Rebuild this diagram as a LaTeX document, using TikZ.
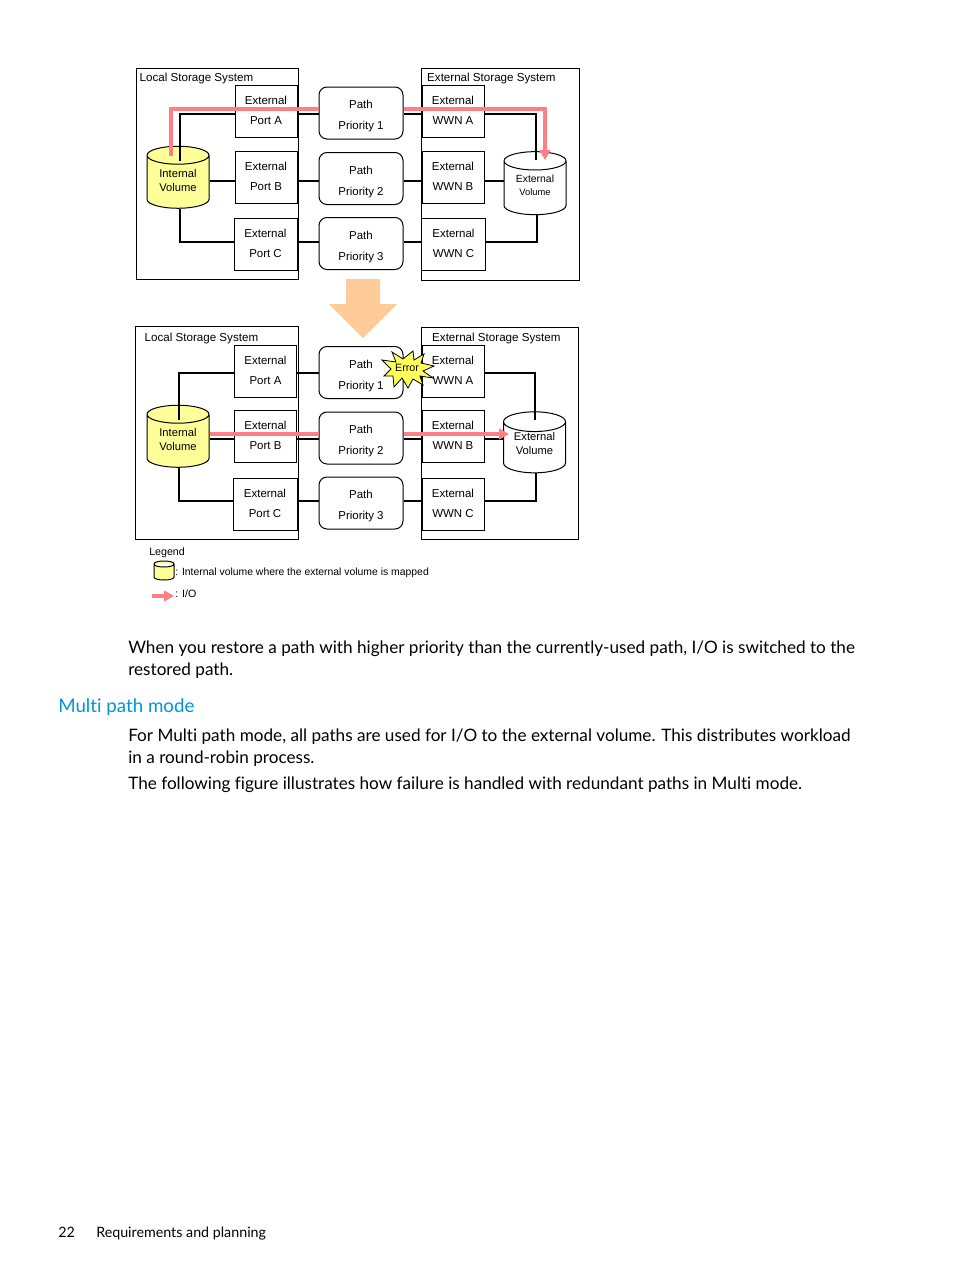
\documentclass[tikz,border=0pt]{standalone}
\usepackage{fontspec}
\setmainfont[Ligatures=CommonOff]{Lato}
\newfontfamily\figfont{Liberation Sans}
\usetikzlibrary{arrows.meta,shapes.geometric}
\definecolor{iopink}{HTML}{FF7F86}
\definecolor{volyel}{HTML}{FFFF99}
\definecolor{peach}{HTML}{FFCC99}
\definecolor{hplink}{HTML}{0096D6}
\tikzset{
  x=.75pt,y=-.75pt,
  vtx/.style={execute at end node={\rule[-#1]{0pt}{0pt}}},
  lb/.style={font=\figfont\fontsize{8.6}{15}\selectfont,align=center},
  tb/.style={font=\figfont\fontsize{8.7}{11}\selectfont,anchor=west},
  sysb/.style={rectangle,draw=black,line width=.75pt,anchor=north west,inner sep=0pt},
  prt/.style={lb,rectangle,draw=black,fill=white,line width=.75pt,minimum width=46.5pt,minimum height=39pt,inner sep=0pt,vtx=1.5pt},
  pth/.style={lb,font=\figfont\fontsize{8.6}{15.75}\selectfont,rectangle,rounded corners=6pt,draw=black,fill=white,line width=.75pt,minimum width=63pt,minimum height=39pt,inner sep=0pt,execute at begin node={\rule{0pt}{27pt}}},
  vol/.style={cylinder,shape border rotate=90,aspect=.48,draw=black,line width=.75pt,inner sep=0pt,minimum width=46.5pt,minimum height=46.5pt,align=center,font=\figfont\fontsize{8.4}{10.5}\selectfont},
  ivol/.style={vol,cylinder uses custom fill,cylinder body fill=volyel,cylinder end fill=volyel,vtx=1.7pt},
  evol/.style={vol,fill=white,vtx=4.7pt},
  lnk/.style={draw=black,line width=1.5pt},
  io/.style={draw=iopink,line width=3pt},
  ioa/.style={io,-{Triangle[length=7.5pt,width=8pt]}},
  body/.style={font=\fontsize{12.86}{16.5}\selectfont,anchor=base west,inner sep=0pt},
}
\begin{document}
\begin{tikzpicture}
\useasboundingbox (0,0) rectangle (954,1271);
% upper panel
\node[sysb,minimum width=121.5pt,minimum height=158.5pt] (ls1) at (136,67.5) {};
\node[sysb,minimum width=118.5pt,minimum height=159.5pt] (es1) at (421,67.5) {};
\node[tb] (lst1) at (135,78) {Local Storage System};
\node[tb] (est1) at (422.5,78) {External Storage System};
\node[ivol] (iv1) at (178,182) {Internal\\Volume};
\node[evol,minimum height=47.25pt,font=\figfont\fontsize{7.8}{9.75}\selectfont] (ev1) at (535,188) {External\\{\fontsize{7}{9.75}\selectfont Volume}};
\coordinate (ia1) at (180,161); \coordinate (ib1) at (171,156);
\coordinate (ea1) at (536,160); \coordinate (eb1) at (545,160); \coordinate (ec1) at (537,215);
\coordinate (la1) at (0,114); \coordinate (lb1) at (0,181); \coordinate (lc1) at (0,242); \coordinate (lp1) at (0,109);
\node[prt] (pa1) at (266,111) {External\\Port A};
\node[prt] (pb1) at (266,177) {External\\Port B};
\node[prt,minimum width=47.25pt] (pc1) at (265.5,244.5) {External\\Port C};
\node[pth] (pp1) at (361,113) {Path\\Priority 1};
\node[pth] (pp2) at (361,178.5) {Path\\Priority 2};
\node[pth] (pp3) at (361,243.5) {Path\\Priority 3};
\node[prt] (wa1) at (453,111) {External\\WWN A};
\node[prt] (wb1) at (453,177) {External\\WWN B};
\node[prt,minimum width=48pt] (wc1) at (453.5,244.5) {External\\WWN C};
\draw[lnk] (ia1) |- (pa1.west |- la1);
\draw[lnk] (iv1.east |- lb1) -- (pb1.west |- lb1);
\draw[lnk] (iv1.south -| ia1) |- (pc1.west |- lc1);
\draw[lnk] (pa1.east |- la1) -- (pp1.west |- la1) (pp1.east |- la1) -- (wa1.west |- la1);
\draw[lnk] (pb1.east |- lb1) -- (pp2.west |- lb1) (pp2.east |- lb1) -- (wb1.west |- lb1);
\draw[lnk] (pc1.east |- lc1) -- (pp3.west |- lc1) (pp3.east |- lc1) -- (wc1.west |- lc1);
\draw[lnk] (wa1.east |- la1) -| (ea1);
\draw[lnk] (wb1.east |- lb1) -- (ev1.west |- lb1);
\draw[lnk] (wc1.east |- lc1) -| (ec1);
\draw[io] (ib1) |- (pp1.west |- lp1);
\draw[ioa] (pp1.east |- lp1) -| (eb1);
% transition arrow
\fill[peach] (346,279) -- (380,279) -- (380,304) -- (397,304) -- (363,338) -- (329,304) -- (346,304) -- cycle;
% lower panel
\node[sysb,minimum width=121.9pt,minimum height=159.75pt] (ls2) at (135,325.5) {};
\node[sysb,minimum width=117.75pt,minimum height=159pt] (es2) at (421,326.5) {};
\node[tb] (lst2) at (140,338) {Local Storage System};
\node[tb] (est2) at (427.5,338) {External Storage System};
\node[ivol] (iv2) at (178,441) {Internal\\Volume};
\node[evol,vtx=6.2pt,minimum height=45.75pt] (ev2) at (534.5,447.5) {External\\Volume};
\coordinate (ia2) at (179,420); \coordinate (ea2) at (535,420); \coordinate (ec2) at (536,473);
\coordinate (la2) at (0,373); \coordinate (lb2) at (0,439); \coordinate (lc2) at (0,501); \coordinate (lp2) at (0,434);
\coordinate (eb2) at (509,434);
\node[prt] (pa2) at (265.5,371) {External\\Port A};
\node[prt] (pb2) at (265.5,436) {External\\Port B};
\node[prt,minimum width=48pt] (pc2) at (265,504.5) {External\\Port C};
\node[pth] (pq1) at (361,372.5) {Path\\Priority 1};
\node[pth] (pq2) at (361,438) {Path\\Priority 2};
\node[pth] (pq3) at (361,503) {Path\\Priority 3};
\node[prt] (wa2) at (453,371) {External\\WWN A};
\node[prt] (wb2) at (453,436) {External\\WWN B};
\node[prt] (wc2) at (453,504.5) {External\\WWN C};
\draw[lnk] (ia2) |- (pa2.west |- la2);
\draw[lnk] (iv2.east |- lb2) -- (pb2.west |- lb2);
\draw[lnk] (iv2.south -| ia2) |- (pc2.west |- lc2);
\draw[lnk] (pa2.east |- la2) -- (pq1.west |- la2);
\draw[lnk] (pb2.east |- lb2) -- (pq2.west |- lb2) (pq2.east |- lb2) -- (wb2.west |- lb2);
\draw[lnk] (pc2.east |- lc2) -- (pq3.west |- lc2) (pq3.east |- lc2) -- (wc2.west |- lc2);
\draw[lnk] (wa2.east |- la2) -| (ea2);
\draw[lnk] (wb2.east |- lb2) -- (ev2.west |- lb2);
\draw[lnk] (wc2.east |- lc2) -| (ec2);
\draw[io] (iv2.east |- lp2) -- (pq2.west |- lp2);
\draw[ioa] (pq2.east |- lp2) -- (eb2);
% error burst
\filldraw[fill=volyel!60!yellow,draw=black,line width=.6pt] (382,360) -- (396,362) -- (392,352) -- (403,359) -- (413,351) -- (414,360) -- (424,354) -- (421,363) -- (434,366) -- (423,371) -- (433,378) -- (420,376) -- (423,385) -- (413,379) -- (408,388) -- (402,378) -- (394,387) -- (393,376) -- (384,376) -- (391,369) -- cycle;
\node[lb,font=\figfont\fontsize{8}{10}\selectfont,inner sep=0pt] (err) at (407,368) {Error};
% legend
\node[tb,font=\figfont\fontsize{8}{10}\selectfont,inner sep=0pt] (lg) at (149,553) {Legend};
\filldraw[fill=volyel,draw=black,line width=.75pt] (154,564) .. controls (154,560) and (174,560) .. (174,564) -- (174,577) .. controls (174,581) and (154,581) .. (154,577) -- cycle (154,564) .. controls (154,568) and (174,568) .. (174,564);
\node[tb,font=\figfont\fontsize{7.8}{10}\selectfont,inner sep=0pt] (lgt) at (175,573) {: Internal volume where the external volume is mapped};
\coordinate (lga) at (152,596); \coordinate (lgb) at (174,596);
\draw[ioa] (lga) -- (lgb);
\node[tb,font=\figfont\fontsize{8}{10}\selectfont,inner sep=0pt] (lgi) at (175,594) {: I/O};
% text
\node[body] (t1) at (128,653) {When you restore a path with higher priority than the currently-used path, I/O is switched to the};
\node[body] (t2) at (128,675) {restored path.};
\node[body,font=\fontsize{14.05}{18}\selectfont,text=hplink] (h1) at (58,712) {Multi path mode};
\node[body] (t3) at (128,741) {For Multi path mode, all paths are used for I/O to the external volume. This distributes workload};
\node[body] (t4) at (128,763) {in a round-robin process.};
\node[body] (t5) at (128,789) {The following figure illustrates how failure is handled with redundant paths in Multi mode.};
\node[body,font=\fontsize{10.7}{14}\selectfont] (f1) at (58,1237) {22};
\node[body,font=\fontsize{10.7}{14}\selectfont] (f2) at (96,1237) {Requirements and planning};
\end{tikzpicture}
\end{document}
